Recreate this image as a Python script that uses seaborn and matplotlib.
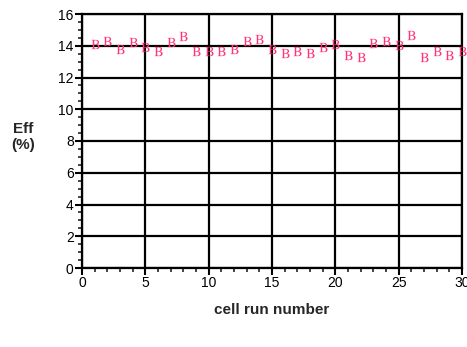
import seaborn as sns
import matplotlib.pyplot as plt
import pandas as pd
from matplotlib.ticker import MultipleLocator

run = list(range(1, 31))
eff = [14.11, 14.32, 13.81, 14.22, 13.94, 13.69, 14.22, 14.63, 13.69, 13.69,
       13.69, 13.81, 14.32, 14.44, 13.81, 13.56, 13.69, 13.56, 13.94, 14.09,
       13.43, 13.31, 14.19, 14.32, 14.07, 14.70, 13.31, 13.69, 13.43, 13.69]
xticks = [0, 5, 10, 15, 20, 25, 30]
yticks = [0, 2, 4, 6, 8, 10, 12, 14, 16]

df = pd.DataFrame({'run': run, 'eff': eff})

sns.set_style("white")
plt.rcParams['font.family'] = ['Liberation Sans', 'DejaVu Sans']
plt.rcParams['mathtext.fontset'] = 'stix'

fig = plt.figure(figsize=(4.67, 3.47), dpi=100)
ax = fig.add_axes([82 / 467, 79 / 347, 380 / 467, 254 / 347])

sns.scatterplot(x='run', y='eff', data=df, ax=ax, marker=r'$\mathrm{B}$',
                color='#ff3377', s=45, linewidth=0, zorder=5, clip_on=False)

ax.set_xlim(0, 30)
ax.set_ylim(0, 16)
ax.set_xticks(xticks)
ax.set_yticks(yticks)
ax.xaxis.set_minor_locator(MultipleLocator(1))
ax.yaxis.set_minor_locator(MultipleLocator(0.5))
ax.grid(True, which='major', color='black', linewidth=1.6)
ax.set_axisbelow(True)
for s in ax.spines.values():
    s.set_color('black')
    s.set_linewidth(1.6)
ax.tick_params(which='major', direction='out', length=5, width=1.5,
               labelsize=10, pad=1, bottom=True, left=True, colors='black')
ax.tick_params(which='minor', direction='out', length=3, width=1.2,
               bottom=True, left=True)
ax.set_xlabel('')
ax.set_ylabel('')

fig.text(272 / 467, 1 - 310 / 347, 'cell run number', ha='center', va='center',
         fontsize=11, fontweight='bold')
fig.text(23 / 467, 1 - 137 / 347, 'Eff\n(%)', ha='center', va='center',
         fontsize=11, fontweight='bold', linespacing=1.15)

fig.savefig('out.png', dpi=100)
